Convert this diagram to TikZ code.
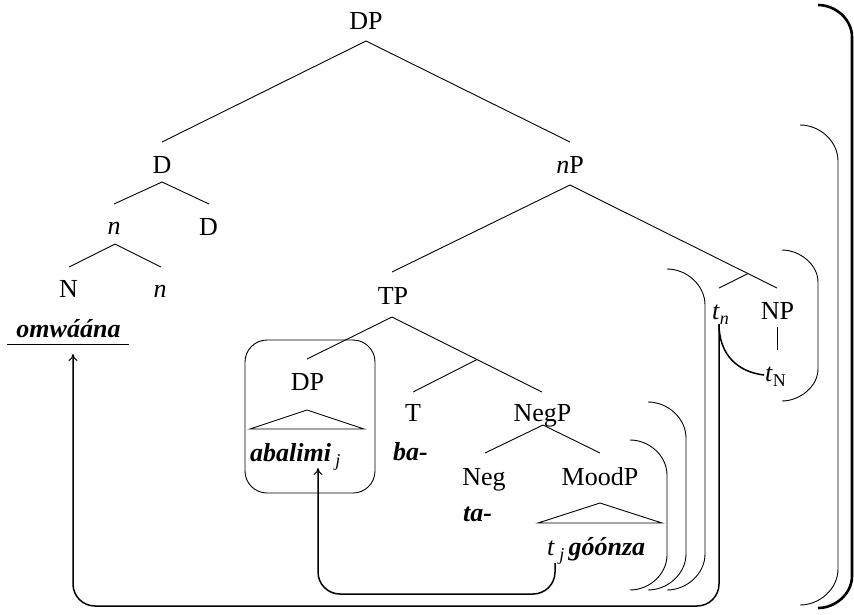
\documentclass[tikz,border=0pt]{standalone}
\usepackage{fontspec}
\setmainfont{Liberation Serif}
\usetikzlibrary{arrows.meta}
\newcommand\rbrk[6]{% style, x0, ytop, xr, ybot, r
  \draw[#1] (#2,#3) .. controls +(0.55*#6,0) and +(0,-0.55*#6) .. (#4,#3+#6)
    -- (#4,#5-#6) .. controls +(0,0.55*#6) and +(0.55*#6,0) .. (#2,#5);}
\newcommand\bi[1]{\textbf{\textit{#1}}}
\newcommand\subsc[1]{\raisebox{-5pt}{\fontsize{18}{18}\selectfont #1}}
\begin{document}
\begin{tikzpicture}[x=1pt,y=-1pt,
  lab/.style={anchor=base,inner sep=0pt,font=\fontsize{26}{30}\selectfont},
  labw/.style={lab,anchor=base west},
  branch/.style={line width=0.9pt},
  brk/.style={line width=0.9pt},
  brkthick/.style={line width=2.6pt},
  mv/.style={line width=1.5pt,rounded corners=22pt},
  tip/.style={-{To[length=7pt,width=9pt,line width=1pt]}},
]
\useasboundingbox (0,0) rectangle (854,614);

% labels
\node[lab] (DP) at (366,29) {DP};
\node[lab] (D) at (162,173) {D};
\node[lab] (nP) at (570,173) {\textit{n}P};
\node[lab] (n1) at (114,234) {\textit{n}};
\node[lab] (D2) at (208.5,235) {D};
\node[lab] (N) at (68.5,297) {N};
\node[lab] (n2) at (160,297) {\textit{n}};
\node[lab] (omw) at (68.5,337) {\bi{omwáána}};
\node[lab] (TP) at (393,304) {TP};
\node[lab] (DPi) at (307.5,390) {DP};
\node[labw] (abal) at (250,461.7) {\bi{abalimi}\,\subsc{\textit{j}}};
\node[lab] (T) at (413,421.7) {T};
\node[labw] (ba) at (393,460) {\bi{ba-}};
\node[lab] (NegP) at (542.5,421.7) {NegP};
\node[lab] (Neg) at (484,485) {Neg};
\node[lab] (MoodP) at (600,485) {MoodP};
\node[labw] (ta) at (463,521) {\bi{ta-}};
\node[labw] (goon) at (547,555) {\textit{t}\,\subsc{\textit{j}}\,\bi{góónza}};
\node[labw] (tn) at (712,319) {\textit{t}\subsc{\textit{n}}};
\node[lab] (NP) at (777.5,319) {NP};
\node[labw] (tN) at (765,381.7) {\textit{t}\subsc{N}};

% branch points
\coordinate (DPa) at (366,41);
\coordinate (Dt) at (162,142);
\coordinate (nPt) at (570,142);
\coordinate (Da) at (162,182);
\coordinate (n1t) at (114,204);
\coordinate (D2t) at (209,204);
\coordinate (n1a) at (115,244);
\coordinate (Nt) at (69,267);
\coordinate (n2t) at (161,267);
\coordinate (nPa) at (570,185);
\coordinate (TPt) at (392,272);
\coordinate (nbar) at (748,273.6);
\coordinate (NPt) at (777,288);
\coordinate (tnt) at (719,288);
\coordinate (TPa) at (392,317);
\coordinate (DPit) at (307,359);
\coordinate (Tbar) at (477,359.5);
\coordinate (NegPt) at (542,392);
\coordinate (Tt) at (413,392);
\coordinate (NegPa) at (543,425);
\coordinate (Negt) at (485,453);
\coordinate (MoodPt) at (600,453);
\coordinate (NPb) at (777,327);
\coordinate (tNt) at (777,350);

\draw[branch] (Dt) -- (DPa) -- (nPt);
\draw[branch] (n1t) -- (Da) -- (D2t);
\draw[branch] (Nt) -- (n1a) -- (n2t);
\draw[branch] (TPt) -- (nPa) -- (nbar) -- (NPt);
\draw[branch] (nbar) -- (tnt);
\draw[branch] (DPit) -- (TPa) -- (Tbar) -- (NegPt);
\draw[branch] (Tbar) -- (Tt);
\draw[branch] (Negt) -- (NegPa) -- (MoodPt);
\draw[branch] (NPb) -- (tNt);

% triangles
\draw[branch] (250,429) -- (307,410) -- (364,429) -- cycle;
\draw[branch] (538,523) -- (600,503) -- (662,523) -- cycle;

% underline
\coordinate (ulL) at (7,344);
\coordinate (ulR) at (129,344);
\draw[branch] (ulL) -- (ulR);

% box round abalimi
\draw[line width=0.9pt,rounded corners=22pt] (245,340) rectangle (375,493);

% brackets
\rbrk{brk}{630}{440}{667}{590}{35}
\rbrk{brk}{648}{402}{686}{590}{36}
\rbrk{brk}{667}{269}{705}{590}{36}
\rbrk{brk}{782}{250}{818}{401}{32}
\rbrk{brk}{800}{125}{838}{605}{36}
\rbrk{brkthick}{818}{5}{852}{608}{32}

% movement arrows
\coordinate (tnb) at (719,324);
\coordinate (tNl) at (764,375);
\coordinate (omwa) at (73,354);
\coordinate (tjb) at (555,563);
\coordinate (abb) at (318,468);
\coordinate (c1) at (73,606);
\coordinate (c2) at (318,594);
\draw[line width=1.5pt] (tnb) .. controls (719,355) and (738,372) .. (tNl);
\draw[mv,tip] (tnb) |- (c1) -- (omwa);
\draw[mv,tip] (tjb) |- (c2) -- (abb);
\end{tikzpicture}
\end{document}
